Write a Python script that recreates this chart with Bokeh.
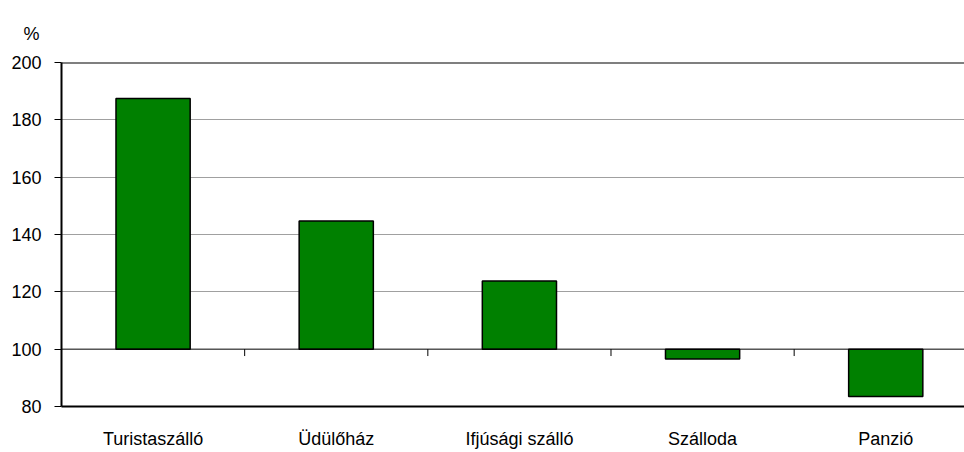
from bokeh.plotting import figure
from bokeh.models import Span, FixedTicker, ColumnDataSource
from bokeh.embed import file_html
from bokeh.resources import INLINE

categories = ["Turistaszálló", "Üdülőház", "Ifjúsági szálló", "Szálloda", "Panzió"]
values = [187.4, 144.7, 123.8, 96.6, 83.5]
base_value = 100
y_ticks = [80, 100, 120, 140, 160, 180, 200]

centers = [i + 0.5 for i in range(len(categories))]
boundaries = [i + 1 for i in range(len(categories) - 1)]

p = figure(width=964, height=452, output_backend="svg", toolbar_location=None,
           x_range=(0, 4.93), y_range=(80, 200),
           min_border_left=61, min_border_top=62, min_border_bottom=46, min_border_right=0)
p.outline_line_color = None
p.background_fill_color = "white"

p.title.text = "%"
p.title.align = "left"
p.title.offset = -38
p.title.standoff = 34
p.title.vertical_align = "top"
p.title.text_font = "Liberation Sans"
p.title.text_font_size = "18px"
p.title.text_font_style = "normal"
p.title.text_color = "black"

src = ColumnDataSource(dict(x=centers, top=values, bottom=[base_value] * len(values)))
p.vbar(x="x", top="top", bottom="bottom", width=0.405, source=src,
       fill_color="#008000", line_color="black", line_width=1.5)

# grid
p.xgrid.grid_line_color = None
p.ygrid.ticker = FixedTicker(ticks=[120, 140, 160, 180])
p.ygrid.grid_line_color = "#a0a0a0"
p.ygrid.grid_line_width = 1

# top frame line at 200
p.add_layout(Span(location=200, dimension="width", line_color="black", line_width=2))
# baseline at 100
p.add_layout(Span(location=base_value, dimension="width", line_color="black", line_width=1))

# category separator ticks below the baseline
p.segment(x0=boundaries, x1=boundaries, y0=[base_value] * len(boundaries),
          y1=[base_value - 2.4] * len(boundaries), line_color="black", line_width=1)

# y axis
p.yaxis.ticker = FixedTicker(ticks=y_ticks)
p.yaxis.axis_line_color = "black"
p.yaxis.axis_line_width = 2
p.yaxis.major_tick_out = 7
p.yaxis.major_tick_in = 0
p.yaxis.minor_tick_line_color = None
p.yaxis.major_label_text_font = "Liberation Sans"
p.yaxis.major_label_text_font_size = "18px"
p.yaxis.major_label_text_color = "black"
p.yaxis.major_label_standoff = 13

# x axis
p.xaxis.ticker = FixedTicker(ticks=centers)
p.xaxis.major_label_overrides = {c: n for c, n in zip(centers, categories)}
p.xaxis.axis_line_color = "black"
p.xaxis.axis_line_width = 2
p.xaxis.major_tick_line_color = None
p.xaxis.minor_tick_line_color = None
p.xaxis.major_label_text_font = "Liberation Sans"
p.xaxis.major_label_text_font_size = "18px"
p.xaxis.major_label_text_color = "black"
p.xaxis.major_label_standoff = 16

open("out.html", "w").write(file_html(p, INLINE))
